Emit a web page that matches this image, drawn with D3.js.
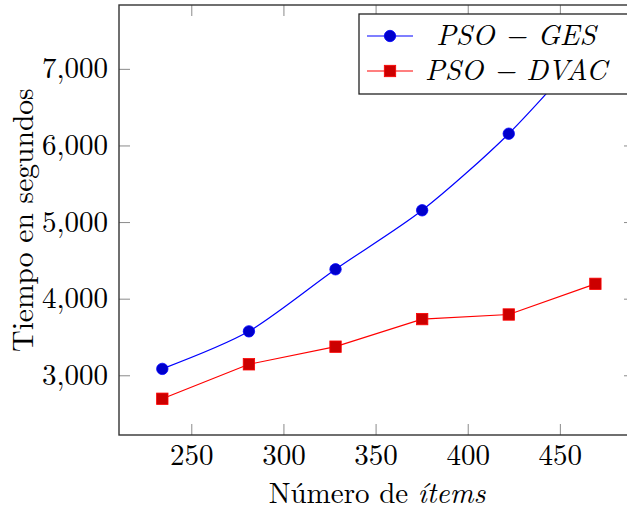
<!DOCTYPE html>
<html>
<head>
<meta charset="utf-8">
<script src="https://cdn.jsdelivr.net/npm/d3@7"></script>
<style>
  body { margin: 0; background: #fff; }
</style>
</head>
<body>
<div id="chart"></div>
<script>
const width = 627;
const height = 510;

// data
const items = [234, 281, 328, 375, 422, 469];
const gesTimes = [3090, 3580, 4390, 5160, 6160, 7400];
const dvacTimes = [2700, 3150, 3380, 3740, 3800, 4200];
const xTicks = [250, 300, 350, 400, 450];
const yTicks = [3000, 4000, 5000, 6000, 7000];
const seriesNames = ["PSO \u2212 GES", "PSO \u2212 DVAC"];

const plotLeft = 119, plotRight = 635, plotTop = 5, plotBottom = 435;
const serif = "'Latin Modern Roman'";

const x = d3.scaleLinear().domain([210.5, 490.5]).range([plotLeft, plotRight]);
const y = d3.scaleLinear().domain([2227, 7840]).range([plotBottom, plotTop]);

const svg = d3.select("#chart").append("svg").attr("width", width).attr("height", height);

// inward ticks on all four sides
const tickLen = 11;
const ticks = svg.append("g").attr("stroke", "#8a8a8a").attr("stroke-width", 1);
xTicks.forEach(t => {
  ticks.append("line").attr("x1", x(t)).attr("x2", x(t)).attr("y1", plotBottom).attr("y2", plotBottom - tickLen);
  ticks.append("line").attr("x1", x(t)).attr("x2", x(t)).attr("y1", plotTop).attr("y2", plotTop + tickLen);
});
yTicks.forEach(t => {
  ticks.append("line").attr("x1", plotLeft).attr("x2", plotLeft + tickLen).attr("y1", y(t)).attr("y2", y(t));
  ticks.append("line").attr("x1", plotRight).attr("x2", plotRight - tickLen).attr("y1", y(t)).attr("y2", y(t));
});

// axis box
svg.append("rect").attr("x", plotLeft).attr("y", plotTop).attr("width", plotRight - plotLeft).attr("height", plotBottom - plotTop)
  .attr("fill", "none").attr("stroke", "#333").attr("stroke-width", 1.4);

// tick labels
const fmt = d3.format(",");
svg.append("g").selectAll("text").data(xTicks).join("text")
  .attr("x", d => x(d)).attr("y", 465).attr("text-anchor", "middle")
  .style("font-family", serif).attr("font-size", 29).text(d => d);
svg.append("g").selectAll("text").data(yTicks).join("text")
  .attr("x", 108).attr("y", d => y(d) + 9).attr("text-anchor", "end")
  .style("font-family", serif).attr("font-size", 29).text(d => fmt(d));

// axis labels
const xl = svg.append("text").attr("x", 377).attr("y", 503).attr("text-anchor", "middle")
  .style("font-family", serif).attr("font-size", 29);
xl.append("tspan").text("Número de ");
xl.append("tspan").attr("font-style", "italic").text("ítems");
svg.append("text").attr("transform", "translate(33,220) rotate(-90)").attr("text-anchor", "middle")
  .style("font-family", serif).attr("font-size", 29.5).text("Tiempo en segundos");

// series
const gesLine = d3.line().x((d, i) => x(items[i])).y(d => y(d)).curve(d3.curveCardinal.tension(0.2));
const dvacLine = d3.line().x((d, i) => x(items[i])).y(d => y(d));

const plot = svg.append("g");
plot.append("path").attr("d", gesLine(gesTimes)).attr("fill", "none").attr("stroke", "#0000ff").attr("stroke-width", 1.2);
plot.selectAll("circle").data(gesTimes).join("circle")
  .attr("cx", (d, i) => x(items[i])).attr("cy", d => y(d)).attr("r", 5.7)
  .attr("fill", "#0000cc").attr("stroke", "#0000ff").attr("stroke-width", 0.8);

plot.append("path").attr("d", dvacLine(dvacTimes)).attr("fill", "none").attr("stroke", "#ff0000").attr("stroke-width", 1.2);
plot.selectAll("rect").data(dvacTimes).join("rect")
  .attr("x", (d, i) => x(items[i]) - 5.7).attr("y", d => y(d) - 5.7).attr("width", 11.4).attr("height", 11.4)
  .attr("fill", "#cc0000").attr("stroke", "#ff0000").attr("stroke-width", 0.8);

// legend
const legend = svg.append("g");
legend.append("rect").attr("x", 359).attr("y", 14).attr("width", 270).attr("height", 80)
  .attr("fill", "#fff").attr("stroke", "#222").attr("stroke-width", 1.3);
const rows = [36, 71];
legend.append("line").attr("x1", 367).attr("x2", 413).attr("y1", rows[0]).attr("y2", rows[0]).attr("stroke", "#0000ff").attr("stroke-width", 1.2);
legend.append("circle").attr("cx", 390).attr("cy", rows[0]).attr("r", 5.7).attr("fill", "#0000cc").attr("stroke", "#0000ff").attr("stroke-width", 0.8);
legend.append("line").attr("x1", 367).attr("x2", 413).attr("y1", rows[1]).attr("y2", rows[1]).attr("stroke", "#ff0000").attr("stroke-width", 1.2);
legend.append("rect").attr("x", 390 - 5.7).attr("y", rows[1] - 5.7).attr("width", 11.4).attr("height", 11.4).attr("fill", "#cc0000").attr("stroke", "#ff0000").attr("stroke-width", 0.8);
legend.selectAll("text.lab").data(seriesNames).join("text").attr("class", "lab")
  .attr("x", 516).attr("y", (d, i) => rows[i] + 8.5).attr("text-anchor", "middle")
  .style("font-family", serif).attr("font-size", 29).attr("font-style", "italic").text(d => d);
</script>
</body>
</html>
